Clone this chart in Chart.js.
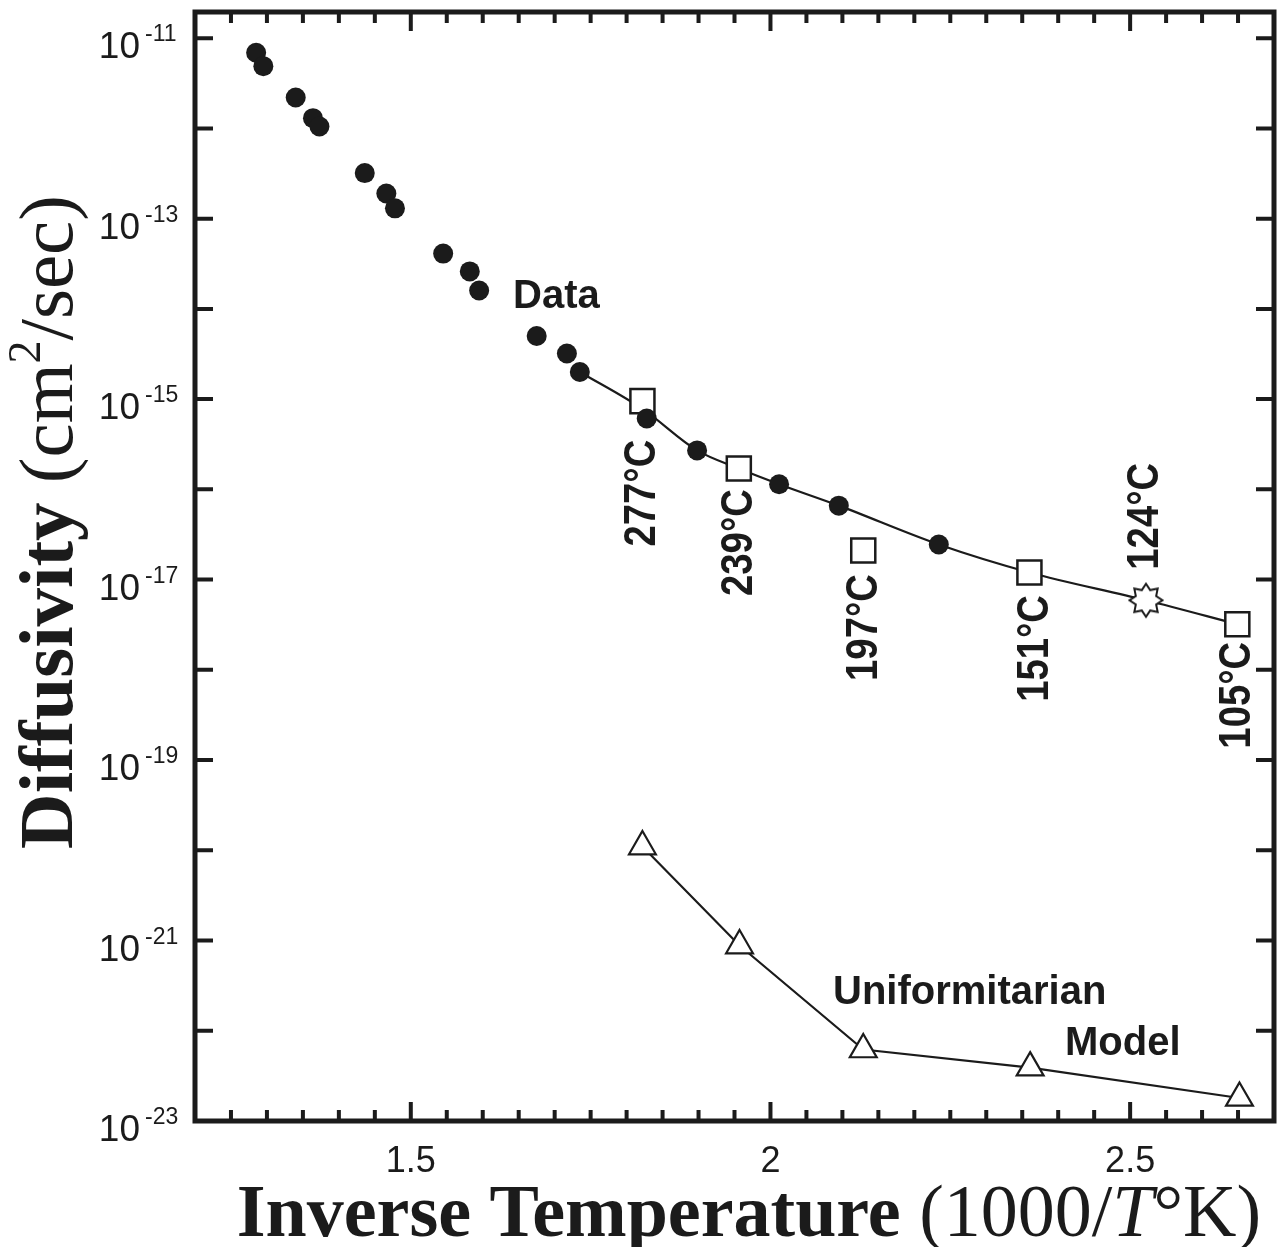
<!DOCTYPE html>
<html>
<head>
<meta charset="utf-8">
<script src="https://cdn.jsdelivr.net/npm/chart.js@4.4.1/dist/chart.umd.min.js"></script>
<style>
html, body { margin: 0; padding: 0; background: #fff; }
canvas { display: block; }
</style>
</head>
<body>
<canvas id="chart" width="1280" height="1247"></canvas>
<script>
// measured diffusivity (filled circles)
const dataX = [1.285, 1.295, 1.340, 1.364, 1.373, 1.436, 1.466, 1.478, 1.545, 1.582, 1.595,
               1.675, 1.717, 1.735, 1.828, 1.898, 2.012, 2.095, 2.234];
const dataY = [6.9e-12, 4.9e-12, 2.2e-12, 1.3e-12, 1.05e-12, 3.2e-13, 1.9e-13, 1.3e-13, 4.1e-14, 2.6e-14, 1.6e-14,
               5.0e-15, 3.2e-15, 2.0e-15, 6.1e-16, 2.7e-16, 1.14e-16, 6.6e-17, 2.45e-17];

// open squares at the labelled temperatures
const squareX = [1.822, 1.956, 2.129, 2.360, 2.649];
const squareY = [9.5e-16, 1.7e-16, 2.1e-17, 1.2e-17, 3.2e-18];
const squareLabels = ['277°C', '239°C', '197°C', '151°C', '105°C'];

// starburst point
const starX = [2.522];
const starY = [5.9e-18];
const starLabel = '124°C';

// fitted curve through the data
const fitX = [1.735, 1.823, 1.898, 1.956, 2.012, 2.095, 2.234, 2.360, 2.522, 2.649];
const fitY = [2.0e-15, 7.7e-16, 2.7e-16, 1.7e-16, 1.14e-16, 6.6e-17, 2.45e-17, 1.2e-17, 5.9e-18, 3.2e-18];

// uniformitarian model (open triangles)
const modelX = [1.822, 1.957, 2.129, 2.361, 2.652];
const modelY = [1.1e-20, 8.8e-22, 6.2e-23, 3.9e-23, 1.8e-23];

const xTicks = [1.5, 2, 2.5];
const yTickPowers = [-11, -13, -15, -17, -19, -21, -23];

const ink = '#1b1b1b';

function pts(xs, ys) {
    return xs.map((v, i) => ({ x: v, y: ys[i] }));
}

function makeStar() {
    const c = document.createElement('canvas');
    c.width = 38; c.height = 38;
    const g = c.getContext('2d');
    g.beginPath();
    for (let i = 0; i < 16; i++) {
        const r = i % 2 ? 11 : 16.5;
        const a = i * Math.PI / 8 - Math.PI / 2;
        g.lineTo(19 + r * Math.cos(a), 19 + r * Math.sin(a));
    }
    g.closePath();
    g.fillStyle = '#fff';
    g.fill();
    g.lineWidth = 2;
    g.strokeStyle = ink;
    g.stroke();
    return c;
}

function rotText(ctx, text, cx, cy) {
    ctx.save();
    ctx.translate(cx, cy);
    ctx.rotate(-Math.PI / 2);
    ctx.scale(0.87, 1);
    ctx.textAlign = 'center';
    ctx.textBaseline = 'middle';
    ctx.fillText(text, 0, 0);
    ctx.restore();
}

// frame, inward ticks, tick labels, titles and notes
const framePlugin = {
    id: 'framePlugin',
    afterDraw(chart) {
        const { ctx, chartArea: a, scales: { x, y } } = chart;
        ctx.save();
        ctx.strokeStyle = ink;
        ctx.fillStyle = ink;

        // x ticks top and bottom
        ctx.lineWidth = 4;
        for (let i = 125; i <= 265; i += 5) {
            const v = i / 100;
            const px = x.getPixelForValue(v);
            const len = xTicks.includes(v) ? 19 : 11;
            ctx.beginPath();
            ctx.moveTo(px, a.bottom); ctx.lineTo(px, a.bottom - len);
            ctx.moveTo(px, a.top); ctx.lineTo(px, a.top + len);
            ctx.stroke();
        }
        // y ticks left and right, every decade
        for (let p = -22; p <= -11; p++) {
            const py = y.getPixelForValue(Math.pow(10, p));
            ctx.beginPath();
            ctx.moveTo(a.left, py); ctx.lineTo(a.left + 18, py);
            ctx.moveTo(a.right, py); ctx.lineTo(a.right - 18, py);
            ctx.stroke();
        }
        ctx.lineWidth = 5;
        ctx.strokeRect(a.left, a.top, a.right - a.left, a.bottom - a.top);

        // x tick labels
        ctx.font = '36px "Liberation Sans", Arial, sans-serif';
        ctx.textAlign = 'center';
        ctx.textBaseline = 'alphabetic';
        xTicks.forEach(v => ctx.fillText(String(v), x.getPixelForValue(v), a.bottom + 51));

        // y tick labels 10^n
        yTickPowers.forEach(p => {
            const py = y.getPixelForValue(Math.pow(10, p));
            ctx.font = '37px "Liberation Sans", Arial, sans-serif';
            ctx.textAlign = 'right';
            ctx.fillText('10', 140, py + 20);
            ctx.font = '23px "Liberation Sans", Arial, sans-serif';
            ctx.textAlign = 'left';
            ctx.fillText(String(p), 145, py + 3);
        });

        // x title
        const xb = 'bold 74px "Liberation Serif", "Times New Roman", serif';
        const xr = '74px "Liberation Serif", "Times New Roman", serif';
        const xi = 'italic 74px "Liberation Serif", "Times New Roman", serif';
        const xParts = [['Inverse Temperature ', xb], ['(1000/', xr], ['T', xi], ['°K)', xr]];
        let total = 0;
        xParts.forEach(([t, f]) => { ctx.font = f; total += ctx.measureText(t).width; });
        let cx = 749 - total / 2;
        ctx.textAlign = 'left';
        xParts.forEach(([t, f]) => { ctx.font = f; ctx.fillText(t, cx, 1236); cx += ctx.measureText(t).width; });

        // y title
        ctx.save();
        ctx.translate(72, 522);
        ctx.rotate(-Math.PI / 2);
        const yb = 'bold 77px "Liberation Serif", "Times New Roman", serif';
        const yr = '77px "Liberation Serif", "Times New Roman", serif';
        const yParts = [['Diffusivity ', yb, 0], ['(cm', yr, 0], ['2', '46px "Liberation Serif", serif', -32], ['/sec)', yr, 0]];
        total = 0;
        yParts.forEach(([t, f]) => { ctx.font = f; total += ctx.measureText(t).width; });
        cx = -total / 2;
        yParts.forEach(([t, f, dy]) => { ctx.font = f; ctx.fillText(t, cx, dy); cx += ctx.measureText(t).width; });
        ctx.restore();

        // notes
        ctx.font = 'bold 40px "Liberation Sans", Arial, sans-serif';
        ctx.textAlign = 'left';
        ctx.fillText('Data', 513, 308);
        ctx.fillText('Uniformitarian', 833, 1004);
        ctx.fillText('Model', 1065, 1055);

        // temperature labels, rotated
        ctx.font = 'bold 44px "Liberation Sans", Arial, sans-serif';
        const offs = [92, 74, 77, 76, 71];
        const dxs = [0, 1, 2, 6, 1];
        squareLabels.forEach((t, i) => {
            const px = x.getPixelForValue(squareX[i]);
            const py = y.getPixelForValue(squareY[i]);
            rotText(ctx, t, px + dxs[i], py + offs[i]);
        });
        rotText(ctx, starLabel, x.getPixelForValue(starX[0]), y.getPixelForValue(starY[0]) - 84);

        ctx.restore();
    }
};

const chart = new Chart(document.getElementById('chart'), {
    type: 'scatter',
    data: {
        datasets: [
            {
                label: 'Data',
                data: pts(dataX, dataY),
                pointStyle: 'circle',
                pointRadius: 10,
                backgroundColor: ink,
                borderColor: ink,
                borderWidth: 0,
                order: 1
            },
            {
                label: 'Temperatures',
                data: pts(squareX, squareY),
                pointStyle: 'rect',
                pointRadius: 17,
                backgroundColor: '#fff',
                borderColor: ink,
                borderWidth: 2.5,
                order: 2
            },
            {
                label: '124',
                data: pts(starX, starY),
                pointStyle: makeStar(),
                pointRadius: 17,
                order: 2
            },
            {
                label: 'Fit',
                data: pts(fitX, fitY),
                showLine: true,
                pointRadius: 0,
                borderColor: ink,
                borderWidth: 2.2,
                cubicInterpolationMode: 'monotone',
                order: 3
            },
            {
                label: 'Uniformitarian Model',
                data: pts(modelX, modelY),
                showLine: true,
                pointStyle: 'triangle',
                pointRadius: 15.5,
                backgroundColor: '#fff',
                borderColor: ink,
                borderWidth: 2.2,
                order: 1
            }
        ]
    },
    options: {
        responsive: false,
        animation: false,
        layout: { autoPadding: false, padding: { left: 195, top: 12, right: 6, bottom: 126 } },
        plugins: { legend: { display: false }, tooltip: { enabled: false } },
        scales: {
            x: { type: 'linear', min: 1.2, max: 2.7, display: false },
            y: { type: 'logarithmic', min: 1e-23, max: 1.95e-11, display: false }
        }
    },
    plugins: [framePlugin]
});
</script>
</body>
</html>
